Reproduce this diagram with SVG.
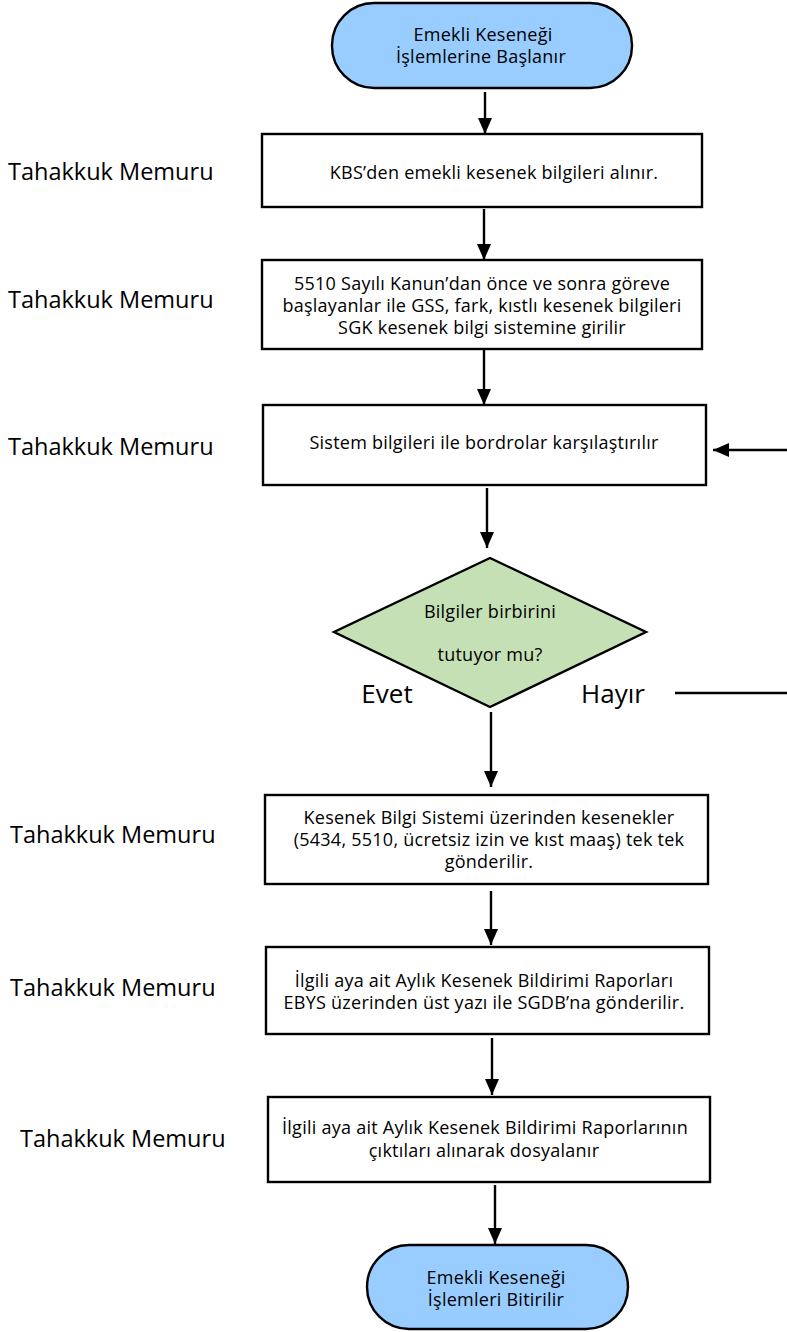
<svg xmlns="http://www.w3.org/2000/svg" width="787" height="1332" viewBox="0 0 787 1332">
<style>
  text { font-family: "Open Sans", "Noto Sans", "Liberation Sans", sans-serif; fill: #000; }
  .t { font-size: 18px; letter-spacing: 0.25px; text-anchor: middle; }
  .lbl { font-size: 23.5px; }
  .yn { font-size: 26px; text-anchor: middle; }
  .box { fill: #fff; stroke: #000; stroke-width: 2.4; }
  .term { fill: #99CCFF; stroke: #000; stroke-width: 2.4; }
  .dec { fill: #C5E0B4; stroke: #000; stroke-width: 2.4; }
  .c { stroke: #000; stroke-width: 2.4; fill: none; }
  .ca { stroke: #000; stroke-width: 2.4; fill: none; marker-end: url(#ah); }
</style>
<defs>
  <marker id="ah" viewBox="0 0 16 14" refX="16" refY="7" markerWidth="16" markerHeight="14" markerUnits="userSpaceOnUse" orient="auto">
    <path d="M0,0 L16,7 L0,14 Z" fill="#000"/>
  </marker>
</defs>
<rect width="787" height="1332" fill="#fff"/>

<g id="connectors">
  <line class="ca" x1="485" y1="92" x2="485" y2="134"/>
  <line class="ca" x1="484" y1="209" x2="484" y2="260"/>
  <line class="ca" x1="484" y1="350" x2="484" y2="405"/>
  <line class="ca" x1="487" y1="488" x2="487" y2="548"/>
  <line class="ca" x1="787" y1="450" x2="713" y2="450"/>
  <line class="c" x1="675" y1="693" x2="787" y2="693"/>
  <line class="ca" x1="491" y1="712" x2="491" y2="787"/>
  <line class="ca" x1="491" y1="891" x2="491" y2="945"/>
  <line class="ca" x1="492" y1="1038" x2="492" y2="1095"/>
  <line class="ca" x1="495" y1="1185" x2="495" y2="1244"/>
</g>

<g id="start">
  <rect class="term" x="332" y="3" width="300" height="85" rx="42" ry="42"/>
  <text class="t" x="483" y="41">Emekli Keseneği</text>
  <text class="t" x="481" y="63">İşlemlerine Başlanır</text>
</g>

<g id="lane1"><text class="lbl" x="8" y="180">Tahakkuk Memuru</text></g>
<g id="step1">
  <rect class="box" x="262" y="134" width="440" height="73"/>
  <text class="t" x="494" y="179">KBS’den emekli kesenek bilgileri alınır.</text>
</g>

<g id="lane2"><text class="lbl" x="8" y="308">Tahakkuk Memuru</text></g>
<g id="step2">
  <rect class="box" x="262" y="260" width="440" height="89"/>
  <text class="t" x="482" y="290">5510 Sayılı Kanun’dan önce ve sonra göreve</text>
  <text class="t" x="482" y="312">başlayanlar ile GSS, fark, kıstlı kesenek bilgileri</text>
  <text class="t" x="482" y="334">SGK kesenek bilgi sistemine girilir</text>
</g>

<g id="lane3"><text class="lbl" x="8" y="455">Tahakkuk Memuru</text></g>
<g id="step3">
  <rect class="box" x="263" y="405" width="443" height="80"/>
  <text class="t" x="484" y="449">Sistem bilgileri ile bordrolar karşılaştırılır</text>
</g>

<g id="decision">
  <polygon class="dec" points="490,558 646,632 490,707 334,632"/>
  <text class="t" x="490" y="618">Bilgiler birbirini</text>
  <text class="t" x="490" y="661">tutuyor mu?</text>
  <text class="yn" x="387" y="703">Evet</text>
  <text class="yn" x="613" y="703">Hayır</text>
</g>

<g id="lane4"><text class="lbl" x="10" y="843">Tahakkuk Memuru</text></g>
<g id="step4">
  <rect class="box" x="265" y="795" width="443" height="89"/>
  <text class="t" x="489" y="824">Kesenek Bilgi Sistemi üzerinden kesenekler</text>
  <text class="t" x="489" y="846">(5434, 5510, ücretsiz izin ve kıst maaş) tek tek</text>
  <text class="t" x="489" y="868">gönderilir.</text>
</g>

<g id="lane5"><text class="lbl" x="10" y="996">Tahakkuk Memuru</text></g>
<g id="step5">
  <rect class="box" x="266" y="947" width="443" height="87"/>
  <text class="t" x="484" y="987">İlgili aya ait Aylık Kesenek Bildirimi Raporları</text>
  <text class="t" x="484" y="1009">EBYS üzerinden üst yazı ile SGDB’na gönderilir.</text>
</g>

<g id="lane6"><text class="lbl" x="20" y="1147">Tahakkuk Memuru</text></g>
<g id="step6">
  <rect class="box" x="268" y="1097" width="442" height="85"/>
  <text class="t" x="485" y="1134">İlgili aya ait Aylık Kesenek Bildirimi Raporlarının</text>
  <text class="t" x="484" y="1157">çıktıları alınarak dosyalanır</text>
</g>

<g id="end">
  <rect class="term" x="367" y="1245" width="261" height="84" rx="42" ry="42"/>
  <text class="t" x="496" y="1284">Emekli Keseneği</text>
  <text class="t" x="496" y="1306">İşlemleri Bitirilir</text>
</g>
</svg>
